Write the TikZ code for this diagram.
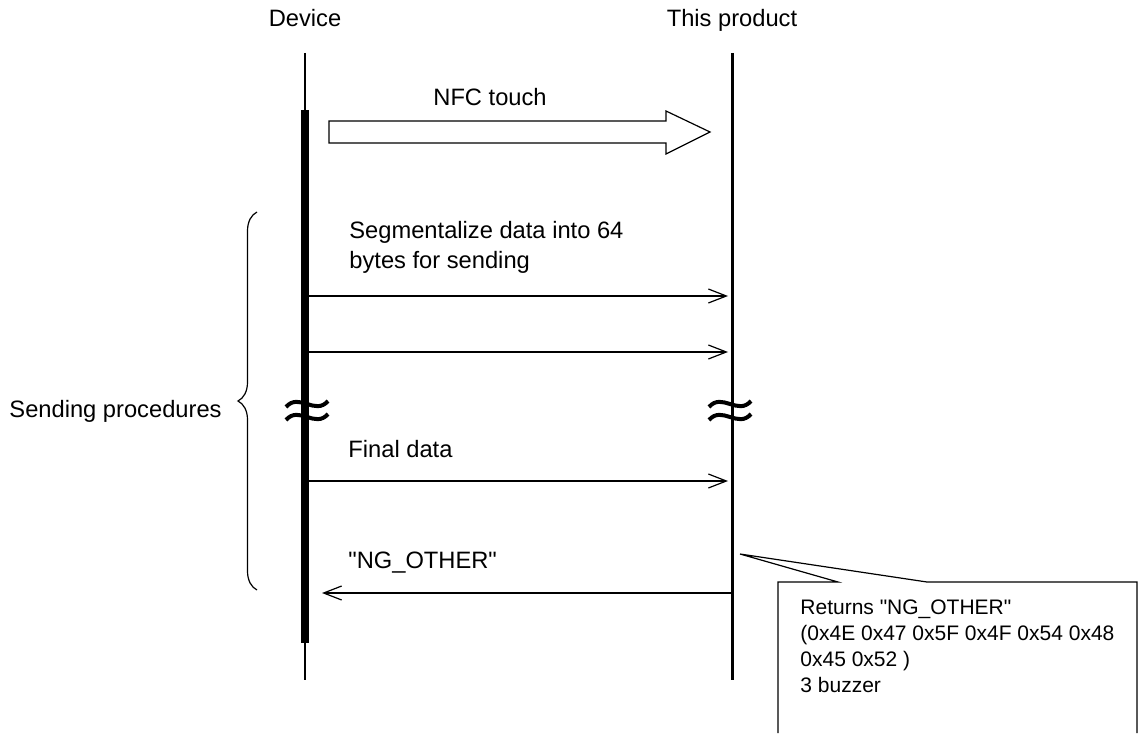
\documentclass[tikz,border=0pt]{standalone}
\usepackage{fontspec}
\setmainfont{Liberation Sans}[Ligatures=TeXOff]
\usetikzlibrary{arrows.meta,decorations.pathreplacing,positioning}
\begin{document}
\begin{tikzpicture}[
  x=0.5pt, y=-0.5pt,
  every node/.style={inner sep=0pt, font=\fontsize{11.85}{15}\selectfont},
  label/.style={anchor=base west},
  msg/.style={-{Straight Barb[length=9pt,width=7pt]}, line width=0.6pt},
  lifeline/.style={line width=1.2pt},
  active/.style={line width=4pt},
  breakmark/.style={line width=2pt},
  note/.style={anchor=base west, align=left, font=\fontsize{10.5}{12.85}\selectfont}
]
\useasboundingbox (0,0) rectangle (1144,733);

% participants
\node[anchor=base] (device) at (305,27) {Device};
\node[anchor=base] (product) at (732,27) {This product};

% lifelines
\coordinate (devtop) at (305,53);
\coordinate (devbot) at (305,680);
\coordinate (prodtop) at (732,53);
\coordinate (prodbot) at (732,680);
\draw[lifeline] (devtop) -- (devbot);
\draw[lifeline, line width=1.5pt] (prodtop) -- (prodbot);
\coordinate (actstart) at (305,110);
\coordinate (actend) at (305,643);
\draw[active] (actstart) -- (actend);

% NFC touch
\draw[line width=0.6pt] (329,121) -- (666,121) -- (666,111) -- (710,132)
  -- (666,154) -- (666,143) -- (329,143) -- cycle;
\node[label] (nfclabel) at (433,105) {NFC touch};

% messages
\foreach \y/\n in {296/1, 352/2, 481/3} {
  \coordinate (d\n) at (309,\y);
  \coordinate (p\n) at (728,\y);
  \draw[msg] (d\n) -- (p\n);
}
\coordinate (p4) at (731,593);
\coordinate (d4) at (322,593);
\draw[msg] (p4) -- (d4);

% base of a multi-line node is its last line
\node[label, align=left] (seglabel) at (349,268) {Segmentalize data into 64\\bytes for sending};
\node[label] (finallabel) at (348,457) {Final data};
\node[label] (nglabel) at (348,568) {"NG\_OTHER"};

% break marks
\foreach \x in {307, 730} {
  \draw[breakmark] (\x-21,407) .. controls (\x-8,392) and (\x+8,416) .. (\x+21,401);
  \draw[breakmark] (\x-21,420) .. controls (\x-8,405) and (\x+8,429) .. (\x+21,414);
}

% brace
\coordinate (bracetop) at (257,212);
\coordinate (bracebot) at (257,590);
\draw[decorate, decoration={brace, amplitude=9.5pt}, line width=0.6pt] (bracebot) -- (bracetop);
\node[anchor=base east] (sendlabel) at (222,417) {Sending procedures};

% note
\coordinate (tip) at (740,554);
\draw[line width=0.6pt, fill=white] (778,733) -- (778,582) -- (838,582) -- (tip)
  -- (927,582) -- (1137,582) -- (1137,733);
\node[note] (notetext) at (800,692) {Returns "NG\_OTHER"\\(0x4E 0x47 0x5F 0x4F 0x54 0x48\\0x45 0x52 )\\3 buzzer};
\end{tikzpicture}
\end{document}
